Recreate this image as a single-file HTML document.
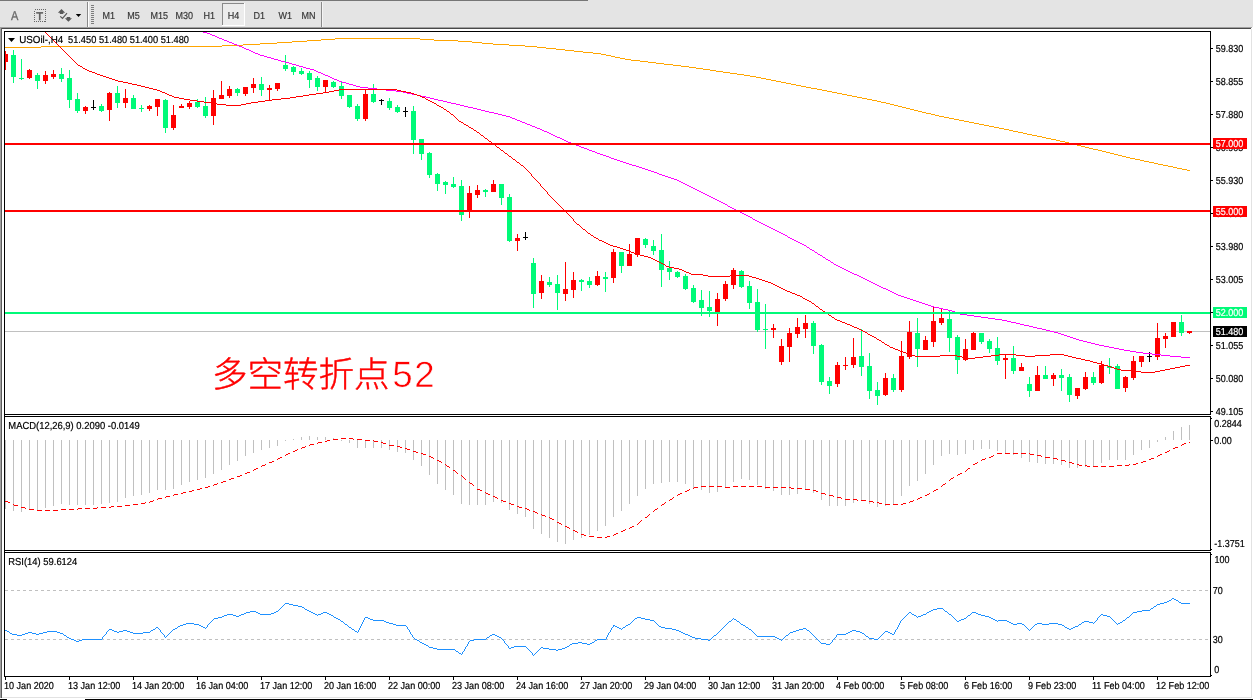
<!DOCTYPE html>
<html lang="zh"><head><meta charset="utf-8"><title>USOil H4</title>
<style>
html,body{margin:0;padding:0;background:#fff;}
body{width:1253px;height:700px;overflow:hidden;position:relative;font-family:"Liberation Sans","Noto Sans CJK SC",sans-serif;}
svg{position:absolute;left:0;top:0;display:block}
.s{shape-rendering:crispEdges}
text{text-rendering:geometricPrecision;stroke:#000;stroke-width:0.2px;font-family:"Liberation Sans","Noto Sans CJK SC",sans-serif;font-size:9px;fill:#000}
.tb{fill:#383838;stroke:#383838}
.big{stroke:none;font-size:35.5px;fill:#ff0000;font-weight:300;font-family:"Liberation Sans","Noto Sans CJK SC",sans-serif}
.w{fill:#fff;stroke:#fff}
</style></head><body>
<svg width="1253" height="700" viewBox="0 0 1253 700">
<g class="s"><rect class="s" x="0" y="0" width="1253" height="27" fill="#e4e4e4"/><rect class="s" x="0" y="0" width="588" height="1" fill="#767676"/><rect class="s" x="0" y="27" width="1252" height="1" fill="#a0a0a0"/><rect class="s" x="0" y="28" width="1251" height="1" fill="#484848"/><rect class="s" x="0" y="27" width="1" height="671" fill="#a0a0a0"/><rect class="s" x="1" y="28" width="1" height="670" fill="#5c5c5c"/><rect class="s" x="1251" y="29" width="1" height="669" fill="#e2e2e2"/><rect class="s" x="2" y="697" width="1250" height="1" fill="#e2e2e2"/><rect class="s" x="0" y="699" width="7" height="1" fill="#000"/><rect class="s" x="85" y="699" width="1168" height="1" fill="#000"/><rect class="s" x="87" y="2" width="1" height="25" fill="#8a8a8a"/><rect class="s" x="88" y="2" width="1" height="25" fill="#fff"/><rect class="s" x="321" y="2" width="1" height="25" fill="#8a8a8a"/><rect class="s" x="322" y="2" width="1" height="25" fill="#f4f4f4"/><rect class="s" x="91" y="5" width="3" height="1" fill="#7c7c7c"/><rect class="s" x="91" y="7" width="3" height="1" fill="#7c7c7c"/><rect class="s" x="91" y="9" width="3" height="1" fill="#7c7c7c"/><rect class="s" x="91" y="11" width="3" height="1" fill="#7c7c7c"/><rect class="s" x="91" y="13" width="3" height="1" fill="#7c7c7c"/><rect class="s" x="91" y="15" width="3" height="1" fill="#7c7c7c"/><rect class="s" x="91" y="17" width="3" height="1" fill="#7c7c7c"/><rect class="s" x="91" y="19" width="3" height="1" fill="#7c7c7c"/><rect class="s" x="91" y="21" width="3" height="1" fill="#7c7c7c"/><rect class="s" x="91" y="23" width="3" height="1" fill="#7c7c7c"/><rect class="s" x="222" y="3" width="22" height="22" fill="#ececec"/><rect class="s" x="222" y="3" width="22" height="1" fill="#8a8a8a"/><rect class="s" x="222" y="3" width="1" height="22" fill="#8a8a8a"/><rect class="s" x="222" y="25" width="23" height="1" fill="#fff"/><rect class="s" x="244" y="3" width="1" height="22" fill="#fff"/></g>
<text transform="translate(11 20) scale(0.86 1)" style="font-size:12.8px;fill:#6a6a6a;stroke:#6a6a6a;stroke-width:0.3px">A</text><rect x="34.5" y="9.5" width="11" height="12" fill="none" stroke="#666" stroke-width="1" stroke-dasharray="1 1" class="s"/><text x="36.3" y="19.8" style="font-size:11.2px;fill:#5a5a5a;stroke:#5a5a5a;stroke-width:0.5px">T</text><g fill="#585858"><polygon points="61.5,9 65.2,12.8 63.3,12.8 63.3,13.9 59.8,13.9 59.8,12.8 57.9,12.8"/><polygon points="68.4,21.8 72,18.2 70.2,18.2 70.2,17.1 66.7,17.1 66.7,18.2 64.9,18.2"/><polyline points="60.2,16.4 62.5,18.3 67,13.2" fill="none" stroke="#585858" stroke-width="1.2"/></g><polygon points="75.8,14 81.2,14 78.5,17" fill="#000"/>
<text transform="translate(102.6 19) scale(0.8927 1)" style="font-size:10.1px" class="tb">M1</text><text transform="translate(127.3 19) scale(0.8927 1)" style="font-size:10.1px" class="tb">M5</text><text transform="translate(150.5 19) scale(0.8927 1)" style="font-size:10.1px" class="tb">M15</text><text transform="translate(175.4 19) scale(0.8927 1)" style="font-size:10.1px" class="tb">M30</text><text transform="translate(203.6 19) scale(0.8927 1)" style="font-size:10.1px" class="tb">H1</text><text transform="translate(227.7 19) scale(0.8927 1)" style="font-size:10.1px" class="tb">H4</text><text transform="translate(253.5 19) scale(0.8927 1)" style="font-size:10.1px" class="tb">D1</text><text transform="translate(278.6 19) scale(0.8927 1)" style="font-size:10.1px" class="tb">W1</text><text transform="translate(301.6 19) scale(0.8927 1)" style="font-size:10.1px" class="tb">MN</text>
<g class="s"><rect class="s" x="4" y="31" width="1207" height="1" fill="#000"/><rect class="s" x="4" y="31" width="1" height="646" fill="#000"/><rect class="s" x="1210" y="31" width="1" height="646" fill="#000"/><rect class="s" x="4" y="676" width="1207" height="1" fill="#000"/><rect class="s" x="4" y="414" width="1207" height="1" fill="#000"/><rect class="s" x="4" y="416" width="1207" height="1" fill="#000"/><rect class="s" x="4" y="550" width="1207" height="1" fill="#000"/><rect class="s" x="4" y="552" width="1207" height="1" fill="#000"/><rect class="s" x="5" y="331" width="1205" height="1" fill="#c0c0c0"/></g>
<g class="s" fill="#c0c0c0"><rect x="5" y="440" width="1" height="69"/><rect x="13" y="440" width="1" height="71"/><rect x="21" y="440" width="1" height="72"/><rect x="29" y="440" width="1" height="70"/><rect x="37" y="440" width="1" height="70"/><rect x="45" y="440" width="1" height="68"/><rect x="53" y="440" width="1" height="66"/><rect x="61" y="440" width="1" height="64"/><rect x="69" y="440" width="1" height="65"/><rect x="77" y="440" width="1" height="65"/><rect x="85" y="440" width="1" height="65"/><rect x="93" y="440" width="1" height="65"/><rect x="101" y="440" width="1" height="64"/><rect x="109" y="440" width="1" height="63"/><rect x="117" y="440" width="1" height="62"/><rect x="125" y="440" width="1" height="58"/><rect x="133" y="440" width="1" height="56"/><rect x="141" y="440" width="1" height="55"/><rect x="149" y="440" width="1" height="53"/><rect x="157" y="440" width="1" height="50"/><rect x="165" y="440" width="1" height="50"/><rect x="173" y="440" width="1" height="49"/><rect x="181" y="440" width="1" height="45"/><rect x="189" y="440" width="1" height="42"/><rect x="197" y="440" width="1" height="40"/><rect x="205" y="440" width="1" height="38"/><rect x="213" y="440" width="1" height="34"/><rect x="221" y="440" width="1" height="30"/><rect x="229" y="440" width="1" height="25"/><rect x="237" y="440" width="1" height="21"/><rect x="245" y="440" width="1" height="16"/><rect x="253" y="440" width="1" height="13"/><rect x="261" y="440" width="1" height="10"/><rect x="269" y="440" width="1" height="8"/><rect x="277" y="440" width="1" height="6"/><rect x="285" y="440" width="1" height="1"/><rect x="293" y="439" width="1" height="1"/><rect x="301" y="437" width="1" height="3"/><rect x="309" y="436" width="1" height="4"/><rect x="317" y="437" width="1" height="3"/><rect x="325" y="437" width="1" height="3"/><rect x="333" y="438" width="1" height="2"/><rect x="341" y="440" width="1" height="1"/><rect x="349" y="440" width="1" height="3"/><rect x="357" y="440" width="1" height="8"/><rect x="365" y="440" width="1" height="8"/><rect x="373" y="440" width="1" height="8"/><rect x="381" y="440" width="1" height="8"/><rect x="389" y="440" width="1" height="10"/><rect x="397" y="440" width="1" height="12"/><rect x="405" y="440" width="1" height="13"/><rect x="413" y="440" width="1" height="20"/><rect x="421" y="440" width="1" height="26"/><rect x="429" y="440" width="1" height="35"/><rect x="437" y="440" width="1" height="44"/><rect x="445" y="440" width="1" height="50"/><rect x="453" y="440" width="1" height="55"/><rect x="461" y="440" width="1" height="64"/><rect x="469" y="440" width="1" height="65"/><rect x="477" y="440" width="1" height="65"/><rect x="485" y="440" width="1" height="65"/><rect x="493" y="440" width="1" height="62"/><rect x="501" y="440" width="1" height="63"/><rect x="509" y="440" width="1" height="70"/><rect x="517" y="440" width="1" height="74"/><rect x="525" y="440" width="1" height="77"/><rect x="533" y="440" width="1" height="89"/><rect x="541" y="440" width="1" height="94"/><rect x="549" y="440" width="1" height="98"/><rect x="557" y="440" width="1" height="102"/><rect x="565" y="440" width="1" height="104"/><rect x="573" y="440" width="1" height="100"/><rect x="581" y="440" width="1" height="98"/><rect x="589" y="440" width="1" height="95"/><rect x="597" y="440" width="1" height="91"/><rect x="605" y="440" width="1" height="86"/><rect x="613" y="440" width="1" height="77"/><rect x="621" y="440" width="1" height="71"/><rect x="629" y="440" width="1" height="64"/><rect x="637" y="440" width="1" height="56"/><rect x="645" y="440" width="1" height="49"/><rect x="653" y="440" width="1" height="44"/><rect x="661" y="440" width="1" height="43"/><rect x="669" y="440" width="1" height="42"/><rect x="677" y="440" width="1" height="42"/><rect x="685" y="440" width="1" height="44"/><rect x="693" y="440" width="1" height="48"/><rect x="701" y="440" width="1" height="50"/><rect x="709" y="440" width="1" height="53"/><rect x="717" y="440" width="1" height="52"/><rect x="725" y="440" width="1" height="47"/><rect x="733" y="440" width="1" height="42"/><rect x="741" y="440" width="1" height="39"/><rect x="749" y="440" width="1" height="40"/><rect x="757" y="440" width="1" height="45"/><rect x="765" y="440" width="1" height="49"/><rect x="773" y="440" width="1" height="51"/><rect x="781" y="440" width="1" height="55"/><rect x="789" y="440" width="1" height="55"/><rect x="797" y="440" width="1" height="54"/><rect x="805" y="440" width="1" height="49"/><rect x="813" y="440" width="1" height="53"/><rect x="821" y="440" width="1" height="60"/><rect x="829" y="440" width="1" height="66"/><rect x="837" y="440" width="1" height="66"/><rect x="845" y="440" width="1" height="66"/><rect x="853" y="440" width="1" height="63"/><rect x="861" y="440" width="1" height="60"/><rect x="869" y="440" width="1" height="64"/><rect x="877" y="440" width="1" height="67"/><rect x="885" y="440" width="1" height="66"/><rect x="893" y="440" width="1" height="65"/><rect x="901" y="440" width="1" height="56"/><rect x="909" y="440" width="1" height="46"/><rect x="917" y="440" width="1" height="41"/><rect x="925" y="440" width="1" height="34"/><rect x="933" y="440" width="1" height="25"/><rect x="941" y="440" width="1" height="16"/><rect x="949" y="440" width="1" height="14"/><rect x="957" y="440" width="1" height="15"/><rect x="965" y="440" width="1" height="14"/><rect x="973" y="440" width="1" height="10"/><rect x="981" y="440" width="1" height="9"/><rect x="989" y="440" width="1" height="9"/><rect x="997" y="440" width="1" height="11"/><rect x="1005" y="440" width="1" height="14"/><rect x="1013" y="440" width="1" height="15"/><rect x="1021" y="440" width="1" height="18"/><rect x="1029" y="440" width="1" height="22"/><rect x="1037" y="440" width="1" height="23"/><rect x="1045" y="440" width="1" height="24"/><rect x="1053" y="440" width="1" height="24"/><rect x="1061" y="440" width="1" height="25"/><rect x="1069" y="440" width="1" height="28"/><rect x="1077" y="440" width="1" height="28"/><rect x="1085" y="440" width="1" height="27"/><rect x="1093" y="440" width="1" height="26"/><rect x="1101" y="440" width="1" height="23"/><rect x="1109" y="440" width="1" height="20"/><rect x="1117" y="440" width="1" height="20"/><rect x="1125" y="440" width="1" height="20"/><rect x="1133" y="440" width="1" height="15"/><rect x="1141" y="440" width="1" height="10"/><rect x="1149" y="440" width="1" height="8"/><rect x="1157" y="440" width="1" height="2"/><rect x="1165" y="437" width="1" height="3"/><rect x="1173" y="431" width="1" height="9"/><rect x="1181" y="427" width="1" height="13"/><rect x="1189" y="425" width="1" height="15"/></g>
<path class="s" fill="#ff0000" d="M5,501h3v1h-3zM8,502h2v1h-2zM13,504h1v1h-1zM14,505h4v1h-4zM21,507h4v1h-4zM25,508h1v1h-1zM29,509h5v1h-5zM37,510h5v1h-5zM45,510h5v1h-5zM53,510h5v1h-5zM61,509h5v1h-5zM69,509h5v1h-5zM77,509h1v1h-1zM78,508h4v1h-4zM85,508h5v1h-5zM93,508h4v1h-4zM97,507h1v1h-1zM101,507h5v1h-5zM109,507h2v1h-2zM111,506h3v1h-3zM117,506h5v1h-5zM125,505h5v1h-5zM133,504h5v1h-5zM141,503h4v1h-4zM145,502h1v1h-1zM149,502h1v1h-1zM150,501h3v1h-3zM153,500h1v1h-1zM157,499h1v1h-1zM158,498h4v1h-4zM165,497h1v1h-1zM166,496h4v1h-4zM173,495h1v1h-1zM174,494h4v1h-4zM181,493h2v1h-2zM183,492h3v1h-3zM189,491h3v1h-3zM192,490h2v1h-2zM197,489h3v1h-3zM200,488h2v1h-2zM205,487h3v1h-3zM208,486h2v1h-2zM213,485h1v1h-1zM214,484h3v1h-3zM217,483h1v1h-1zM221,482h2v1h-2zM223,481h3v1h-3zM229,479h2v1h-2zM231,478h3v1h-3zM237,476h3v1h-3zM240,475h2v1h-2zM245,473h2v1h-2zM247,472h3v1h-3zM253,470h1v1h-1zM254,469h2v1h-2zM256,468h2v1h-2zM261,466h1v1h-1zM262,465h3v1h-3zM265,464h1v1h-1zM269,462h3v1h-3zM272,461h2v1h-2zM277,459h1v1h-1zM278,458h2v1h-2zM280,457h2v1h-2zM285,455h1v1h-1zM286,454h2v1h-2zM288,453h2v1h-2zM293,451h2v1h-2zM295,450h2v1h-2zM297,449h1v1h-1zM301,448h1v1h-1zM302,447h3v1h-3zM305,446h1v1h-1zM309,445h1v1h-1zM310,444h4v1h-4zM317,443h1v1h-1zM318,442h4v1h-4zM325,441h2v1h-2zM327,440h3v1h-3zM333,439h5v1h-5zM341,438h5v1h-5zM349,438h4v1h-4zM353,439h1v1h-1zM357,439h5v1h-5zM365,440h5v1h-5zM373,440h1v1h-1zM374,441h4v1h-4zM381,442h2v1h-2zM383,443h3v1h-3zM389,445h5v1h-5zM397,446h3v1h-3zM400,447h2v1h-2zM405,448h2v1h-2zM407,449h3v1h-3zM413,451h3v1h-3zM416,452h2v1h-2zM421,453h2v1h-2zM423,454h3v1h-3zM429,456h2v1h-2zM431,457h2v1h-2zM433,458h1v1h-1zM437,460h2v1h-2zM439,461h2v1h-2zM441,462h1v1h-1zM445,464h1v1h-1zM446,465h1v1h-1zM447,466h2v1h-2zM449,467h1v1h-1zM453,470h2v1h-2zM455,471h1v1h-1zM456,472h1v1h-1zM457,473h1v1h-1zM461,475h1v1h-1zM462,476h1v1h-1zM463,477h1v1h-1zM464,478h1v1h-1zM465,479h1v1h-1zM469,482h1v1h-1zM470,483h2v1h-2zM472,484h1v1h-1zM473,485h1v1h-1zM477,489h3v1h-3zM480,490h2v1h-2zM485,492h1v1h-1zM486,493h2v1h-2zM488,494h2v1h-2zM493,496h2v1h-2zM495,497h2v1h-2zM497,498h1v1h-1zM501,500h2v1h-2zM503,501h3v1h-3zM509,503h2v1h-2zM511,504h3v1h-3zM517,506h2v1h-2zM519,507h3v1h-3zM525,508h2v1h-2zM527,509h2v1h-2zM529,510h1v1h-1zM533,511h2v1h-2zM535,512h2v1h-2zM537,513h1v1h-1zM541,514h1v1h-1zM542,515h3v1h-3zM545,516h1v1h-1zM549,517h1v1h-1zM550,518h2v1h-2zM552,519h2v1h-2zM557,522h2v1h-2zM559,523h2v1h-2zM561,524h1v1h-1zM565,526h2v1h-2zM567,527h2v1h-2zM569,528h1v1h-1zM573,530h2v1h-2zM575,531h2v1h-2zM577,532h1v1h-1zM581,534h3v1h-3zM584,535h2v1h-2zM589,536h5v1h-5zM597,537h5v1h-5zM605,537h2v1h-2zM607,536h3v1h-3zM613,535h1v1h-1zM614,534h2v1h-2zM616,533h2v1h-2zM621,531h2v1h-2zM623,530h2v1h-2zM625,529h1v1h-1zM629,528h1v1h-1zM630,527h2v1h-2zM632,526h2v1h-2zM637,524h1v1h-1zM638,523h1v1h-1zM639,522h1v1h-1zM640,521h1v1h-1zM641,520h1v1h-1zM645,517h2v1h-2zM647,516h1v1h-1zM648,515h1v1h-1zM649,514h1v1h-1zM653,511h1v1h-1zM654,510h1v1h-1zM655,509h2v1h-2zM657,508h1v1h-1zM661,505h1v1h-1zM662,504h2v1h-2zM664,503h1v1h-1zM665,502h1v1h-1zM669,500h1v1h-1zM670,499h2v1h-2zM672,498h1v1h-1zM673,497h1v1h-1zM677,495h1v1h-1zM678,494h2v1h-2zM680,493h2v1h-2zM685,491h2v1h-2zM687,490h2v1h-2zM689,489h1v1h-1zM693,488h1v1h-1zM694,487h4v1h-4zM701,486h5v1h-5zM709,486h5v1h-5zM717,486h5v1h-5zM725,487h5v1h-5zM733,486h5v1h-5zM741,486h5v1h-5zM749,486h5v1h-5zM757,486h5v1h-5zM765,487h5v1h-5zM773,487h5v1h-5zM781,487h5v1h-5zM789,487h2v1h-2zM791,488h3v1h-3zM797,488h5v1h-5zM805,489h5v1h-5zM813,490h3v1h-3zM816,491h2v1h-2zM821,493h4v1h-4zM825,494h1v1h-1zM829,495h4v1h-4zM833,496h1v1h-1zM837,497h4v1h-4zM841,498h1v1h-1zM845,499h5v1h-5zM853,499h4v1h-4zM857,500h1v1h-1zM861,500h5v1h-5zM869,501h4v1h-4zM873,502h1v1h-1zM877,502h2v1h-2zM879,503h3v1h-3zM885,504h5v1h-5zM893,504h5v1h-5zM901,504h2v1h-2zM903,503h3v1h-3zM909,502h1v1h-1zM910,501h3v1h-3zM913,500h1v1h-1zM917,499h1v1h-1zM918,498h2v1h-2zM920,497h2v1h-2zM925,495h2v1h-2zM927,494h2v1h-2zM929,493h1v1h-1zM933,491h1v1h-1zM934,490h2v1h-2zM936,489h2v1h-2zM941,486h1v1h-1zM942,485h1v1h-1zM943,484h2v1h-2zM945,483h1v1h-1zM949,480h1v1h-1zM950,479h1v1h-1zM951,478h2v1h-2zM953,477h1v1h-1zM957,475h1v1h-1zM958,474h2v1h-2zM960,473h2v1h-2zM965,471h1v1h-1zM966,470h1v1h-1zM967,469h1v1h-1zM968,468h2v1h-2zM973,464h2v1h-2zM975,463h2v1h-2zM977,462h1v1h-1zM981,460h1v1h-1zM982,459h3v1h-3zM985,458h1v1h-1zM989,457h2v1h-2zM991,456h2v1h-2zM993,455h1v1h-1zM997,453h5v1h-5zM1005,453h5v1h-5zM1013,453h5v1h-5zM1021,453h5v1h-5zM1029,453h1v1h-1zM1030,454h4v1h-4zM1037,455h4v1h-4zM1041,456h1v1h-1zM1045,457h5v1h-5zM1053,458h4v1h-4zM1057,459h1v1h-1zM1061,460h4v1h-4zM1065,461h1v1h-1zM1069,462h3v1h-3zM1072,463h2v1h-2zM1077,464h2v1h-2zM1079,465h3v1h-3zM1085,465h2v1h-2zM1087,466h3v1h-3zM1093,466h5v1h-5zM1101,466h5v1h-5zM1109,466h5v1h-5zM1117,465h5v1h-5zM1125,465h4v1h-4zM1129,464h1v1h-1zM1133,464h3v1h-3zM1136,463h2v1h-2zM1141,462h2v1h-2zM1143,461h3v1h-3zM1149,459h2v1h-2zM1151,458h3v1h-3zM1157,456h1v1h-1zM1158,455h2v1h-2zM1160,454h2v1h-2zM1165,452h2v1h-2zM1167,451h2v1h-2zM1169,450h1v1h-1zM1173,448h2v1h-2zM1175,447h3v1h-3zM1181,445h1v1h-1zM1182,444h2v1h-2zM1184,443h2v1h-2zM1189,442h1v1h-1z"/>
<g class="s" stroke="#c0c0c0" stroke-width="1" stroke-dasharray="3 3"><line x1="5" y1="590.5" x2="1210" y2="590.5"/><line x1="5" y1="639.5" x2="1210" y2="639.5"/></g><path class="s" fill="#1e90ff" d="M5,630h2v1h-2zM7,631h2v1h-2zM9,632h1v1h-1zM10,633h2v1h-2zM12,634h5v1h-5zM17,635h5v1h-5zM22,634h3v1h-3zM25,633h3v1h-3zM28,632h4v1h-4zM32,633h4v1h-4zM36,634h3v1h-3zM39,633h4v1h-4zM43,632h4v1h-4zM47,631h10v1h-10zM57,632h3v1h-3zM60,633h3v1h-3zM63,634h1v1h-1zM64,635h2v1h-2zM66,636h1v1h-1zM67,637h2v1h-2zM69,638h2v1h-2zM71,639h3v1h-3zM74,640h2v1h-2zM76,641h3v1h-3zM79,640h3v1h-3zM82,639h20v1h-20zM102,637h1v2h-1zM103,636h1v1h-1zM104,635h1v1h-1zM105,634h1v1h-1zM106,632h1v2h-1zM107,631h1v1h-1zM108,630h1v1h-1zM109,629h3v1h-3zM112,630h2v1h-2zM114,631h3v1h-3zM117,632h2v1h-2zM119,631h4v1h-4zM123,630h4v1h-4zM127,631h3v1h-3zM130,632h3v1h-3zM133,633h10v1h-10zM143,632h7v1h-7zM150,631h1v1h-1zM151,630h2v1h-2zM153,629h2v1h-2zM155,628h1v1h-1zM156,627h2v1h-2zM158,628h1v1h-1zM159,629h1v1h-1zM160,630h1v2h-1zM161,632h1v1h-1zM162,633h1v1h-1zM163,634h1v1h-1zM164,635h1v2h-1zM165,637h1v1h-1zM166,636h1v1h-1zM167,635h1v1h-1zM168,634h1v1h-1zM169,633h1v1h-1zM170,632h1v1h-1zM171,631h1v1h-1zM172,630h1v1h-1zM173,629h2v1h-2zM175,628h2v1h-2zM177,627h1v1h-1zM178,626h2v1h-2zM180,625h3v1h-3zM183,624h3v1h-3zM186,623h8v1h-8zM194,624h5v1h-5zM199,625h2v1h-2zM201,626h2v1h-2zM203,627h2v1h-2zM205,628h1v1h-1zM206,627h1v1h-1zM207,625h1v2h-1zM208,624h1v1h-1zM209,623h1v1h-1zM210,622h1v1h-1zM211,621h1v1h-1zM212,620h1v1h-1zM213,619h1v1h-1zM214,618h4v1h-4zM218,617h4v1h-4zM222,616h2v1h-2zM224,615h3v1h-3zM227,614h6v1h-6zM233,615h3v1h-3zM236,616h3v1h-3zM239,615h2v1h-2zM241,614h3v1h-3zM244,613h2v1h-2zM246,612h4v1h-4zM250,611h6v1h-6zM256,612h2v1h-2zM258,613h2v1h-2zM260,614h11v1h-11zM271,613h3v1h-3zM274,612h2v1h-2zM276,611h2v1h-2zM278,610h1v1h-1zM279,609h1v1h-1zM280,608h1v1h-1zM281,607h1v1h-1zM282,606h1v1h-1zM283,605h1v1h-1zM284,604h1v1h-1zM285,603h4v1h-4zM289,604h4v1h-4zM293,605h5v1h-5zM298,606h4v1h-4zM302,607h2v1h-2zM304,608h1v1h-1zM305,609h2v1h-2zM307,610h2v1h-2zM309,611h2v1h-2zM311,612h2v1h-2zM313,613h2v1h-2zM315,614h2v1h-2zM317,615h1v1h-1zM318,614h3v1h-3zM321,613h2v1h-2zM323,612h4v1h-4zM327,613h2v1h-2zM329,614h2v1h-2zM331,615h2v1h-2zM333,616h1v1h-1zM334,617h2v1h-2zM336,618h2v1h-2zM338,619h2v1h-2zM340,620h1v1h-1zM341,621h2v1h-2zM343,622h1v1h-1zM344,623h1v1h-1zM345,624h2v1h-2zM347,625h1v1h-1zM348,626h1v1h-1zM349,627h2v1h-2zM351,628h1v1h-1zM352,629h2v1h-2zM354,630h1v1h-1zM355,631h2v1h-2zM357,632h1v1h-1zM358,630h1v2h-1zM359,628h1v2h-1zM360,626h1v2h-1zM361,624h1v2h-1zM362,622h1v2h-1zM363,620h1v2h-1zM364,618h1v2h-1zM365,617h3v1h-3zM368,618h2v1h-2zM370,619h3v1h-3zM373,620h11v1h-11zM384,621h2v1h-2zM386,622h3v1h-3zM389,623h4v1h-4zM393,624h3v1h-3zM396,625h10v1h-10zM406,626h1v1h-1zM407,627h1v2h-1zM408,629h1v1h-1zM409,630h1v2h-1zM410,632h1v2h-1zM411,634h1v1h-1zM412,635h1v2h-1zM413,637h1v1h-1zM414,638h1v1h-1zM415,639h2v1h-2zM417,640h2v1h-2zM419,641h1v1h-1zM420,642h2v1h-2zM422,643h2v1h-2zM424,644h2v1h-2zM426,645h2v1h-2zM428,646h1v1h-1zM429,647h4v1h-4zM433,648h4v1h-4zM437,649h18v1h-18zM455,650h1v1h-1zM456,651h2v1h-2zM458,652h1v1h-1zM459,653h2v1h-2zM461,654h1v1h-1zM462,652h1v2h-1zM463,651h1v1h-1zM464,649h1v2h-1zM465,647h1v2h-1zM466,646h1v1h-1zM467,644h1v2h-1zM468,642h1v2h-1zM469,641h1v1h-1zM470,640h4v1h-4zM474,639h12v1h-12zM486,638h1v1h-1zM487,637h2v1h-2zM489,636h1v1h-1zM490,635h2v1h-2zM492,634h3v1h-3zM495,635h2v1h-2zM497,636h2v1h-2zM499,637h2v1h-2zM501,638h1v1h-1zM502,639h1v1h-1zM503,640h1v1h-1zM504,641h1v2h-1zM505,643h1v1h-1zM506,644h1v1h-1zM507,645h1v1h-1zM508,646h1v2h-1zM509,648h2v1h-2zM511,647h3v1h-3zM514,646h12v1h-12zM526,647h1v1h-1zM527,648h1v1h-1zM528,649h1v1h-1zM529,650h1v1h-1zM530,651h1v1h-1zM531,652h1v1h-1zM532,653h1v2h-1zM533,655h1v1h-1zM534,654h1v1h-1zM535,653h1v1h-1zM536,652h1v1h-1zM537,651h1v1h-1zM538,650h1v1h-1zM539,649h1v1h-1zM540,648h1v1h-1zM541,647h2v1h-2zM543,648h6v1h-6zM549,649h7v1h-7zM556,650h2v1h-2zM558,649h4v1h-4zM562,648h3v1h-3zM565,647h2v1h-2zM567,646h2v1h-2zM569,645h1v1h-1zM570,644h2v1h-2zM572,643h6v1h-6zM578,642h4v1h-4zM582,643h5v1h-5zM587,644h3v1h-3zM590,643h2v1h-2zM592,642h2v1h-2zM594,641h1v1h-1zM595,640h2v1h-2zM597,639h9v1h-9zM606,637h1v2h-1zM607,635h1v2h-1zM608,633h1v2h-1zM609,632h1v1h-1zM610,630h1v2h-1zM611,628h1v2h-1zM612,627h1v1h-1zM613,625h1v2h-1zM614,625h1v1h-1zM615,626h2v1h-2zM617,627h2v1h-2zM619,628h2v1h-2zM621,629h1v1h-1zM622,628h1v1h-1zM623,627h2v1h-2zM625,626h1v1h-1zM626,625h2v1h-2zM628,624h2v1h-2zM630,623h1v1h-1zM631,622h1v1h-1zM632,621h1v1h-1zM633,620h1v1h-1zM634,619h1v1h-1zM635,618h2v1h-2zM637,617h4v1h-4zM641,618h4v1h-4zM645,619h5v1h-5zM650,620h4v1h-4zM654,621h1v1h-1zM655,622h1v1h-1zM656,623h1v1h-1zM657,624h1v1h-1zM658,625h1v1h-1zM659,626h2v1h-2zM661,627h4v1h-4zM665,628h7v1h-7zM672,629h4v1h-4zM676,630h3v1h-3zM679,631h2v1h-2zM681,632h2v1h-2zM683,633h2v1h-2zM685,634h3v1h-3zM688,635h2v1h-2zM690,636h2v1h-2zM692,637h3v1h-3zM695,638h6v1h-6zM701,639h7v1h-7zM708,640h2v1h-2zM710,639h1v1h-1zM711,638h1v1h-1zM712,637h1v1h-1zM713,636h1v1h-1zM714,635h2v1h-2zM716,634h1v1h-1zM717,633h1v1h-1zM718,632h1v1h-1zM719,631h1v1h-1zM720,630h1v1h-1zM721,629h1v1h-1zM722,628h1v1h-1zM723,627h1v1h-1zM724,626h1v1h-1zM725,625h1v1h-1zM726,624h1v1h-1zM727,623h1v1h-1zM728,622h1v1h-1zM729,621h2v1h-2zM731,620h1v1h-1zM732,619h1v1h-1zM733,618h1v1h-1zM734,619h2v1h-2zM736,620h1v1h-1zM737,621h2v1h-2zM739,622h1v1h-1zM740,623h1v1h-1zM741,624h2v1h-2zM743,625h2v1h-2zM745,626h1v1h-1zM746,627h2v1h-2zM748,628h1v1h-1zM749,629h2v1h-2zM751,630h1v1h-1zM752,631h1v1h-1zM753,632h1v1h-1zM754,633h1v1h-1zM755,634h1v1h-1zM756,635h1v1h-1zM757,636h18v1h-18zM775,637h2v1h-2zM777,638h2v1h-2zM779,639h2v1h-2zM781,640h1v1h-1zM782,639h1v1h-1zM783,638h1v1h-1zM784,637h1v1h-1zM785,636h1v1h-1zM786,635h2v1h-2zM788,634h1v1h-1zM789,633h1v1h-1zM790,632h3v1h-3zM793,631h3v1h-3zM796,630h3v1h-3zM799,629h4v1h-4zM803,628h3v1h-3zM806,629h1v1h-1zM807,630h2v1h-2zM809,631h1v1h-1zM810,632h1v1h-1zM811,633h1v1h-1zM812,634h1v1h-1zM813,635h1v1h-1zM814,636h1v1h-1zM815,637h1v1h-1zM816,638h1v1h-1zM817,639h1v1h-1zM818,640h1v1h-1zM819,641h1v1h-1zM820,642h1v1h-1zM821,643h5v1h-5zM826,644h4v1h-4zM830,643h1v1h-1zM831,642h1v1h-1zM832,640h1v2h-1zM833,639h1v1h-1zM834,638h1v1h-1zM835,637h1v1h-1zM836,635h1v2h-1zM837,634h9v1h-9zM846,633h2v1h-2zM848,632h2v1h-2zM850,631h2v1h-2zM852,630h4v1h-4zM856,631h4v1h-4zM860,632h2v1h-2zM862,633h2v1h-2zM864,634h1v1h-1zM865,635h1v1h-1zM866,636h2v1h-2zM868,637h1v1h-1zM869,638h5v1h-5zM874,639h4v1h-4zM878,638h1v1h-1zM879,637h1v1h-1zM880,636h1v1h-1zM881,635h1v1h-1zM882,634h1v1h-1zM883,633h1v1h-1zM884,632h1v1h-1zM885,631h3v1h-3zM888,632h2v1h-2zM890,633h2v1h-2zM892,634h2v1h-2zM894,632h1v2h-1zM895,630h1v2h-1zM896,629h1v1h-1zM897,627h1v2h-1zM898,625h1v2h-1zM899,623h1v2h-1zM900,621h1v2h-1zM901,620h1v1h-1zM902,619h1v1h-1zM903,618h1v1h-1zM904,617h1v1h-1zM905,616h1v1h-1zM906,615h1v1h-1zM907,614h1v1h-1zM908,613h1v1h-1zM909,612h2v1h-2zM911,613h1v1h-1zM912,614h2v1h-2zM914,615h2v1h-2zM916,616h1v1h-1zM917,617h1v1h-1zM918,616h3v1h-3zM921,615h2v1h-2zM923,614h3v1h-3zM926,613h1v1h-1zM927,612h2v1h-2zM929,611h2v1h-2zM931,610h2v1h-2zM933,609h4v1h-4zM937,608h6v1h-6zM943,609h1v1h-1zM944,610h1v1h-1zM945,611h2v1h-2zM947,612h1v1h-1zM948,613h1v1h-1zM949,614h2v1h-2zM951,615h1v1h-1zM952,616h1v1h-1zM953,617h1v1h-1zM954,618h1v1h-1zM955,619h1v1h-1zM956,620h1v1h-1zM957,621h2v1h-2zM959,620h2v1h-2zM961,619h3v1h-3zM964,618h2v1h-2zM966,617h1v1h-1zM967,616h1v1h-1zM968,615h2v1h-2zM970,614h1v1h-1zM971,613h1v1h-1zM972,612h4v1h-4zM976,613h2v1h-2zM978,614h3v1h-3zM981,615h4v1h-4zM985,616h4v1h-4zM989,617h2v1h-2zM991,618h2v1h-2zM993,619h2v1h-2zM995,620h2v1h-2zM997,621h1v1h-1zM998,620h9v1h-9zM1007,621h2v1h-2zM1009,622h2v1h-2zM1011,623h2v1h-2zM1013,624h4v1h-4zM1017,623h5v1h-5zM1022,624h2v1h-2zM1024,625h1v1h-1zM1025,626h1v1h-1zM1026,627h1v1h-1zM1027,628h1v1h-1zM1028,629h1v1h-1zM1029,630h1v1h-1zM1030,629h1v1h-1zM1031,628h1v1h-1zM1032,627h1v1h-1zM1033,626h1v1h-1zM1034,625h1v1h-1zM1035,624h2v1h-2zM1037,623h5v1h-5zM1042,624h7v1h-7zM1049,623h9v1h-9zM1058,624h4v1h-4zM1062,625h2v1h-2zM1064,626h1v1h-1zM1065,627h2v1h-2zM1067,628h2v1h-2zM1069,629h2v1h-2zM1071,628h2v1h-2zM1073,627h2v1h-2zM1075,626h3v1h-3zM1078,625h1v1h-1zM1079,624h2v1h-2zM1081,623h1v1h-1zM1082,622h2v1h-2zM1084,621h5v1h-5zM1089,622h4v1h-4zM1093,623h1v1h-1zM1094,622h1v1h-1zM1095,621h1v1h-1zM1096,620h1v1h-1zM1097,618h1v2h-1zM1098,617h1v1h-1zM1099,616h1v1h-1zM1100,615h1v1h-1zM1101,614h2v1h-2zM1103,615h4v1h-4zM1107,616h3v1h-3zM1110,617h1v1h-1zM1111,618h1v1h-1zM1112,619h1v1h-1zM1113,620h1v1h-1zM1114,621h1v1h-1zM1115,622h1v1h-1zM1116,623h1v1h-1zM1117,624h1v1h-1zM1118,623h2v1h-2zM1120,622h2v1h-2zM1122,621h1v1h-1zM1123,620h2v1h-2zM1125,619h1v1h-1zM1126,618h1v1h-1zM1127,617h2v1h-2zM1129,616h1v1h-1zM1130,615h1v1h-1zM1131,614h1v1h-1zM1132,613h1v1h-1zM1133,612h4v1h-4zM1137,611h5v1h-5zM1142,610h8v1h-8zM1150,609h1v1h-1zM1151,608h2v1h-2zM1153,607h1v1h-1zM1154,606h2v1h-2zM1156,605h1v1h-1zM1157,604h3v1h-3zM1160,603h4v1h-4zM1164,602h3v1h-3zM1167,601h2v1h-2zM1169,600h2v1h-2zM1171,599h1v1h-1zM1172,598h2v1h-2zM1174,599h2v1h-2zM1176,600h2v1h-2zM1178,601h1v1h-1zM1179,602h2v1h-2zM1181,603h9v1h-9z"/>
<g class="s"><rect x="5" y="51" width="1" height="19" fill="#ff0000"/><rect x="5" y="54" width="3" height="8" fill="#ff0000"/><rect x="13" y="50" width="1" height="33" fill="#00fa78"/><rect x="11" y="55" width="5" height="22" fill="#00fa78"/><rect x="21" y="59" width="1" height="21" fill="#00fa78"/><rect x="19" y="78" width="5" height="1" fill="#00fa78"/><rect x="29" y="69" width="1" height="10" fill="#ff0000"/><rect x="27" y="70" width="5" height="8" fill="#ff0000"/><rect x="37" y="73" width="1" height="16" fill="#00fa78"/><rect x="35" y="75" width="5" height="6" fill="#00fa78"/><rect x="45" y="71" width="1" height="13" fill="#ff0000"/><rect x="43" y="75" width="5" height="6" fill="#ff0000"/><rect x="53" y="70" width="1" height="9" fill="#ff0000"/><rect x="51" y="74" width="5" height="3" fill="#ff0000"/><rect x="61" y="68" width="1" height="14" fill="#00fa78"/><rect x="59" y="74" width="5" height="5" fill="#00fa78"/><rect x="69" y="70" width="1" height="38" fill="#00fa78"/><rect x="67" y="78" width="5" height="22" fill="#00fa78"/><rect x="77" y="93" width="1" height="20" fill="#00fa78"/><rect x="75" y="99" width="5" height="12" fill="#00fa78"/><rect x="85" y="106" width="1" height="8" fill="#ff0000"/><rect x="83" y="107" width="5" height="4" fill="#ff0000"/><rect x="93" y="100" width="1" height="10" fill="#000"/><rect x="91" y="107" width="5" height="1" fill="#000"/><rect x="101" y="104" width="1" height="8" fill="#00fa78"/><rect x="99" y="106" width="5" height="5" fill="#00fa78"/><rect x="109" y="92" width="1" height="29" fill="#ff0000"/><rect x="107" y="93" width="5" height="17" fill="#ff0000"/><rect x="117" y="86" width="1" height="22" fill="#00fa78"/><rect x="115" y="93" width="5" height="10" fill="#00fa78"/><rect x="125" y="89" width="1" height="19" fill="#ff0000"/><rect x="123" y="98" width="5" height="5" fill="#ff0000"/><rect x="133" y="95" width="1" height="14" fill="#00fa78"/><rect x="131" y="98" width="5" height="11" fill="#00fa78"/><rect x="141" y="105" width="1" height="7" fill="#00fa78"/><rect x="139" y="108" width="5" height="1" fill="#00fa78"/><rect x="149" y="105" width="1" height="6" fill="#ff0000"/><rect x="147" y="106" width="5" height="3" fill="#ff0000"/><rect x="157" y="99" width="1" height="17" fill="#ff0000"/><rect x="155" y="99" width="5" height="8" fill="#ff0000"/><rect x="165" y="99" width="1" height="34" fill="#00fa78"/><rect x="163" y="100" width="5" height="28" fill="#00fa78"/><rect x="173" y="105" width="1" height="25" fill="#ff0000"/><rect x="171" y="115" width="5" height="13" fill="#ff0000"/><rect x="181" y="104" width="1" height="4" fill="#ff0000"/><rect x="179" y="106" width="5" height="2" fill="#ff0000"/><rect x="189" y="101" width="1" height="8" fill="#ff0000"/><rect x="187" y="103" width="5" height="4" fill="#ff0000"/><rect x="197" y="99" width="1" height="9" fill="#00fa78"/><rect x="195" y="102" width="5" height="5" fill="#00fa78"/><rect x="205" y="97" width="1" height="21" fill="#00fa78"/><rect x="203" y="106" width="5" height="10" fill="#00fa78"/><rect x="213" y="90" width="1" height="35" fill="#ff0000"/><rect x="211" y="98" width="5" height="18" fill="#ff0000"/><rect x="221" y="81" width="1" height="18" fill="#ff0000"/><rect x="219" y="95" width="5" height="4" fill="#ff0000"/><rect x="229" y="86" width="1" height="12" fill="#ff0000"/><rect x="227" y="89" width="5" height="7" fill="#ff0000"/><rect x="237" y="88" width="1" height="8" fill="#00fa78"/><rect x="235" y="89" width="5" height="4" fill="#00fa78"/><rect x="245" y="87" width="1" height="9" fill="#ff0000"/><rect x="243" y="87" width="5" height="7" fill="#ff0000"/><rect x="253" y="78" width="1" height="15" fill="#ff0000"/><rect x="251" y="84" width="5" height="4" fill="#ff0000"/><rect x="261" y="77" width="1" height="19" fill="#00fa78"/><rect x="259" y="84" width="5" height="6" fill="#00fa78"/><rect x="269" y="85" width="1" height="15" fill="#ff0000"/><rect x="267" y="88" width="5" height="2" fill="#ff0000"/><rect x="277" y="83" width="1" height="8" fill="#ff0000"/><rect x="275" y="83" width="5" height="6" fill="#ff0000"/><rect x="285" y="55" width="1" height="16" fill="#00fa78"/><rect x="283" y="65" width="5" height="4" fill="#00fa78"/><rect x="293" y="66" width="1" height="9" fill="#00fa78"/><rect x="291" y="67" width="5" height="5" fill="#00fa78"/><rect x="301" y="68" width="1" height="7" fill="#00fa78"/><rect x="299" y="71" width="5" height="3" fill="#00fa78"/><rect x="309" y="71" width="1" height="17" fill="#00fa78"/><rect x="307" y="73" width="5" height="7" fill="#00fa78"/><rect x="317" y="76" width="1" height="15" fill="#00fa78"/><rect x="315" y="78" width="5" height="9" fill="#00fa78"/><rect x="325" y="80" width="1" height="12" fill="#ff0000"/><rect x="323" y="80" width="5" height="7" fill="#ff0000"/><rect x="333" y="81" width="1" height="7" fill="#00fa78"/><rect x="331" y="82" width="5" height="5" fill="#00fa78"/><rect x="341" y="82" width="1" height="17" fill="#00fa78"/><rect x="339" y="86" width="5" height="10" fill="#00fa78"/><rect x="349" y="95" width="1" height="13" fill="#00fa78"/><rect x="347" y="95" width="5" height="12" fill="#00fa78"/><rect x="357" y="104" width="1" height="17" fill="#00fa78"/><rect x="355" y="106" width="5" height="13" fill="#00fa78"/><rect x="365" y="90" width="1" height="31" fill="#ff0000"/><rect x="363" y="94" width="5" height="25" fill="#ff0000"/><rect x="373" y="84" width="1" height="19" fill="#00fa78"/><rect x="371" y="94" width="5" height="8" fill="#00fa78"/><rect x="381" y="99" width="1" height="6" fill="#000"/><rect x="379" y="100" width="5" height="1" fill="#000"/><rect x="389" y="98" width="1" height="12" fill="#00fa78"/><rect x="387" y="101" width="5" height="7" fill="#00fa78"/><rect x="397" y="105" width="1" height="8" fill="#00fa78"/><rect x="395" y="107" width="5" height="5" fill="#00fa78"/><rect x="405" y="107" width="1" height="10" fill="#000"/><rect x="403" y="111" width="5" height="1" fill="#000"/><rect x="413" y="106" width="1" height="48" fill="#00fa78"/><rect x="411" y="111" width="5" height="29" fill="#00fa78"/><rect x="421" y="139" width="1" height="21" fill="#00fa78"/><rect x="419" y="139" width="5" height="15" fill="#00fa78"/><rect x="429" y="152" width="1" height="26" fill="#00fa78"/><rect x="427" y="153" width="5" height="22" fill="#00fa78"/><rect x="437" y="173" width="1" height="18" fill="#00fa78"/><rect x="435" y="174" width="5" height="10" fill="#00fa78"/><rect x="445" y="181" width="1" height="13" fill="#00fa78"/><rect x="443" y="182" width="5" height="3" fill="#00fa78"/><rect x="453" y="177" width="1" height="11" fill="#00fa78"/><rect x="451" y="184" width="5" height="3" fill="#00fa78"/><rect x="461" y="180" width="1" height="41" fill="#00fa78"/><rect x="459" y="186" width="5" height="29" fill="#00fa78"/><rect x="469" y="186" width="1" height="32" fill="#ff0000"/><rect x="467" y="193" width="5" height="17" fill="#ff0000"/><rect x="477" y="185" width="1" height="13" fill="#ff0000"/><rect x="475" y="190" width="5" height="5" fill="#ff0000"/><rect x="485" y="189" width="1" height="8" fill="#00fa78"/><rect x="483" y="190" width="5" height="2" fill="#00fa78"/><rect x="493" y="180" width="1" height="12" fill="#ff0000"/><rect x="491" y="184" width="5" height="8" fill="#ff0000"/><rect x="501" y="184" width="1" height="21" fill="#00fa78"/><rect x="499" y="184" width="5" height="14" fill="#00fa78"/><rect x="509" y="194" width="1" height="48" fill="#00fa78"/><rect x="507" y="197" width="5" height="44" fill="#00fa78"/><rect x="517" y="234" width="1" height="17" fill="#ff0000"/><rect x="515" y="238" width="5" height="3" fill="#ff0000"/><rect x="525" y="232" width="1" height="8" fill="#000"/><rect x="523" y="237" width="5" height="1" fill="#000"/><rect x="533" y="258" width="1" height="50" fill="#00fa78"/><rect x="531" y="263" width="5" height="31" fill="#00fa78"/><rect x="541" y="275" width="1" height="24" fill="#ff0000"/><rect x="539" y="281" width="5" height="12" fill="#ff0000"/><rect x="549" y="277" width="1" height="10" fill="#00fa78"/><rect x="547" y="282" width="5" height="3" fill="#00fa78"/><rect x="557" y="275" width="1" height="35" fill="#00fa78"/><rect x="555" y="284" width="5" height="9" fill="#00fa78"/><rect x="565" y="262" width="1" height="39" fill="#ff0000"/><rect x="563" y="289" width="5" height="5" fill="#ff0000"/><rect x="573" y="272" width="1" height="26" fill="#ff0000"/><rect x="571" y="280" width="5" height="10" fill="#ff0000"/><rect x="581" y="279" width="1" height="12" fill="#00fa78"/><rect x="579" y="280" width="5" height="2" fill="#00fa78"/><rect x="589" y="277" width="1" height="11" fill="#00fa78"/><rect x="587" y="281" width="5" height="4" fill="#00fa78"/><rect x="597" y="271" width="1" height="15" fill="#ff0000"/><rect x="595" y="276" width="5" height="9" fill="#ff0000"/><rect x="605" y="272" width="1" height="20" fill="#00fa78"/><rect x="603" y="277" width="5" height="2" fill="#00fa78"/><rect x="613" y="249" width="1" height="34" fill="#ff0000"/><rect x="611" y="252" width="5" height="26" fill="#ff0000"/><rect x="621" y="252" width="1" height="21" fill="#00fa78"/><rect x="619" y="252" width="5" height="14" fill="#00fa78"/><rect x="629" y="244" width="1" height="22" fill="#ff0000"/><rect x="627" y="254" width="5" height="12" fill="#ff0000"/><rect x="637" y="238" width="1" height="19" fill="#ff0000"/><rect x="635" y="238" width="5" height="17" fill="#ff0000"/><rect x="645" y="238" width="1" height="10" fill="#00fa78"/><rect x="643" y="239" width="5" height="6" fill="#00fa78"/><rect x="653" y="240" width="1" height="15" fill="#00fa78"/><rect x="651" y="246" width="5" height="5" fill="#00fa78"/><rect x="661" y="234" width="1" height="53" fill="#00fa78"/><rect x="659" y="250" width="5" height="20" fill="#00fa78"/><rect x="669" y="261" width="1" height="19" fill="#00fa78"/><rect x="667" y="268" width="5" height="4" fill="#00fa78"/><rect x="677" y="271" width="1" height="7" fill="#00fa78"/><rect x="675" y="272" width="5" height="5" fill="#00fa78"/><rect x="685" y="274" width="1" height="16" fill="#00fa78"/><rect x="683" y="276" width="5" height="13" fill="#00fa78"/><rect x="693" y="285" width="1" height="18" fill="#00fa78"/><rect x="691" y="288" width="5" height="14" fill="#00fa78"/><rect x="701" y="290" width="1" height="26" fill="#00fa78"/><rect x="699" y="300" width="5" height="8" fill="#00fa78"/><rect x="709" y="291" width="1" height="26" fill="#00fa78"/><rect x="707" y="307" width="5" height="4" fill="#00fa78"/><rect x="717" y="293" width="1" height="33" fill="#ff0000"/><rect x="715" y="299" width="5" height="13" fill="#ff0000"/><rect x="725" y="281" width="1" height="20" fill="#ff0000"/><rect x="723" y="284" width="5" height="15" fill="#ff0000"/><rect x="733" y="268" width="1" height="21" fill="#ff0000"/><rect x="731" y="270" width="5" height="15" fill="#ff0000"/><rect x="741" y="270" width="1" height="18" fill="#00fa78"/><rect x="739" y="271" width="5" height="16" fill="#00fa78"/><rect x="749" y="281" width="1" height="28" fill="#00fa78"/><rect x="747" y="286" width="5" height="17" fill="#00fa78"/><rect x="757" y="289" width="1" height="43" fill="#00fa78"/><rect x="755" y="302" width="5" height="28" fill="#00fa78"/><rect x="765" y="304" width="1" height="45" fill="#00fa78"/><rect x="763" y="329" width="5" height="1" fill="#00fa78"/><rect x="773" y="324" width="1" height="14" fill="#ff0000"/><rect x="771" y="328" width="5" height="2" fill="#ff0000"/><rect x="781" y="339" width="1" height="26" fill="#ff0000"/><rect x="779" y="346" width="5" height="16" fill="#ff0000"/><rect x="789" y="328" width="1" height="34" fill="#ff0000"/><rect x="787" y="333" width="5" height="14" fill="#ff0000"/><rect x="797" y="318" width="1" height="20" fill="#ff0000"/><rect x="795" y="327" width="5" height="7" fill="#ff0000"/><rect x="805" y="315" width="1" height="23" fill="#ff0000"/><rect x="803" y="323" width="5" height="6" fill="#ff0000"/><rect x="813" y="321" width="1" height="33" fill="#00fa78"/><rect x="811" y="323" width="5" height="23" fill="#00fa78"/><rect x="821" y="344" width="1" height="41" fill="#00fa78"/><rect x="819" y="345" width="5" height="37" fill="#00fa78"/><rect x="829" y="377" width="1" height="17" fill="#00fa78"/><rect x="827" y="381" width="5" height="5" fill="#00fa78"/><rect x="837" y="362" width="1" height="25" fill="#ff0000"/><rect x="835" y="365" width="5" height="19" fill="#ff0000"/><rect x="845" y="357" width="1" height="13" fill="#ff0000"/><rect x="843" y="365" width="5" height="1" fill="#ff0000"/><rect x="853" y="338" width="1" height="30" fill="#ff0000"/><rect x="851" y="357" width="5" height="8" fill="#ff0000"/><rect x="861" y="329" width="1" height="47" fill="#00fa78"/><rect x="859" y="356" width="5" height="11" fill="#00fa78"/><rect x="869" y="353" width="1" height="46" fill="#00fa78"/><rect x="867" y="366" width="5" height="25" fill="#00fa78"/><rect x="877" y="382" width="1" height="23" fill="#00fa78"/><rect x="875" y="390" width="5" height="6" fill="#00fa78"/><rect x="885" y="373" width="1" height="23" fill="#ff0000"/><rect x="883" y="378" width="5" height="17" fill="#ff0000"/><rect x="893" y="374" width="1" height="18" fill="#00fa78"/><rect x="891" y="378" width="5" height="12" fill="#00fa78"/><rect x="901" y="341" width="1" height="51" fill="#ff0000"/><rect x="899" y="356" width="5" height="34" fill="#ff0000"/><rect x="909" y="321" width="1" height="38" fill="#ff0000"/><rect x="907" y="332" width="5" height="25" fill="#ff0000"/><rect x="917" y="318" width="1" height="49" fill="#00fa78"/><rect x="915" y="333" width="5" height="16" fill="#00fa78"/><rect x="925" y="336" width="1" height="14" fill="#ff0000"/><rect x="923" y="340" width="5" height="10" fill="#ff0000"/><rect x="933" y="307" width="1" height="40" fill="#ff0000"/><rect x="931" y="321" width="5" height="21" fill="#ff0000"/><rect x="941" y="308" width="1" height="17" fill="#ff0000"/><rect x="939" y="318" width="5" height="5" fill="#ff0000"/><rect x="949" y="311" width="1" height="41" fill="#00fa78"/><rect x="947" y="319" width="5" height="19" fill="#00fa78"/><rect x="957" y="335" width="1" height="39" fill="#00fa78"/><rect x="955" y="337" width="5" height="23" fill="#00fa78"/><rect x="965" y="339" width="1" height="22" fill="#ff0000"/><rect x="963" y="349" width="5" height="11" fill="#ff0000"/><rect x="973" y="332" width="1" height="18" fill="#ff0000"/><rect x="971" y="333" width="5" height="17" fill="#ff0000"/><rect x="981" y="333" width="1" height="11" fill="#00fa78"/><rect x="979" y="333" width="5" height="9" fill="#00fa78"/><rect x="989" y="339" width="1" height="14" fill="#00fa78"/><rect x="987" y="341" width="5" height="8" fill="#00fa78"/><rect x="997" y="337" width="1" height="28" fill="#00fa78"/><rect x="995" y="348" width="5" height="13" fill="#00fa78"/><rect x="1005" y="354" width="1" height="25" fill="#ff0000"/><rect x="1003" y="358" width="5" height="2" fill="#ff0000"/><rect x="1013" y="346" width="1" height="28" fill="#00fa78"/><rect x="1011" y="358" width="5" height="13" fill="#00fa78"/><rect x="1021" y="363" width="1" height="8" fill="#ff0000"/><rect x="1019" y="367" width="5" height="4" fill="#ff0000"/><rect x="1029" y="377" width="1" height="20" fill="#00fa78"/><rect x="1027" y="384" width="5" height="7" fill="#00fa78"/><rect x="1037" y="366" width="1" height="25" fill="#ff0000"/><rect x="1035" y="375" width="5" height="16" fill="#ff0000"/><rect x="1045" y="366" width="1" height="13" fill="#00fa78"/><rect x="1043" y="375" width="5" height="4" fill="#00fa78"/><rect x="1053" y="373" width="1" height="13" fill="#ff0000"/><rect x="1051" y="375" width="5" height="4" fill="#ff0000"/><rect x="1061" y="369" width="1" height="22" fill="#00fa78"/><rect x="1059" y="375" width="5" height="3" fill="#00fa78"/><rect x="1069" y="374" width="1" height="28" fill="#00fa78"/><rect x="1067" y="377" width="5" height="18" fill="#00fa78"/><rect x="1077" y="388" width="1" height="11" fill="#ff0000"/><rect x="1075" y="388" width="5" height="8" fill="#ff0000"/><rect x="1085" y="372" width="1" height="18" fill="#ff0000"/><rect x="1083" y="377" width="5" height="12" fill="#ff0000"/><rect x="1093" y="372" width="1" height="13" fill="#00fa78"/><rect x="1091" y="377" width="5" height="6" fill="#00fa78"/><rect x="1101" y="361" width="1" height="23" fill="#ff0000"/><rect x="1099" y="365" width="5" height="18" fill="#ff0000"/><rect x="1109" y="358" width="1" height="16" fill="#00fa78"/><rect x="1107" y="366" width="5" height="2" fill="#00fa78"/><rect x="1117" y="364" width="1" height="25" fill="#00fa78"/><rect x="1115" y="366" width="5" height="23" fill="#00fa78"/><rect x="1125" y="376" width="1" height="16" fill="#ff0000"/><rect x="1123" y="377" width="5" height="11" fill="#ff0000"/><rect x="1133" y="356" width="1" height="24" fill="#ff0000"/><rect x="1131" y="361" width="5" height="17" fill="#ff0000"/><rect x="1141" y="356" width="1" height="11" fill="#ff0000"/><rect x="1139" y="356" width="5" height="6" fill="#ff0000"/><rect x="1149" y="352" width="1" height="10" fill="#000"/><rect x="1147" y="356" width="5" height="1" fill="#000"/><rect x="1157" y="323" width="1" height="37" fill="#ff0000"/><rect x="1155" y="338" width="5" height="19" fill="#ff0000"/><rect x="1165" y="333" width="1" height="15" fill="#ff0000"/><rect x="1163" y="336" width="5" height="3" fill="#ff0000"/><rect x="1173" y="322" width="1" height="15" fill="#ff0000"/><rect x="1171" y="322" width="5" height="15" fill="#ff0000"/><rect x="1181" y="315" width="1" height="21" fill="#00fa78"/><rect x="1179" y="322" width="5" height="11" fill="#00fa78"/><rect x="1189" y="331" width="1" height="3" fill="#ff0000"/><rect x="1187" y="331" width="5" height="2" fill="#ff0000"/></g>
<path class="s" fill="#ffa500" d="M5,47h36v1h-36zM41,46h181v1h-181zM222,45h21v1h-21zM243,44h17v1h-17zM260,43h17v1h-17zM277,42h15v1h-15zM292,41h15v1h-15zM307,40h14v1h-14zM321,39h14v1h-14zM335,38h85v1h-85zM420,39h14v1h-14zM434,40h24v1h-24zM458,41h14v1h-14zM472,42h10v1h-10zM482,43h11v1h-11zM493,44h16v1h-16zM509,45h16v1h-16zM525,46h12v1h-12zM537,47h9v1h-9zM546,48h10v1h-10zM556,49h9v1h-9zM565,50h9v1h-9zM574,51h9v1h-9zM583,52h10v1h-10zM593,53h8v1h-8zM601,54h5v1h-5zM606,55h5v1h-5zM611,56h4v1h-4zM615,57h5v1h-5zM620,58h5v1h-5zM625,59h6v1h-6zM631,60h9v1h-9zM640,61h8v1h-8zM648,62h8v1h-8zM656,63h8v1h-8zM664,64h9v1h-9zM673,65h8v1h-8zM681,66h8v1h-8zM689,67h7v1h-7zM696,68h7v1h-7zM703,69h7v1h-7zM710,70h6v1h-6zM716,71h7v1h-7zM723,72h7v1h-7zM730,73h7v1h-7zM737,74h7v1h-7zM744,75h6v1h-6zM750,76h6v1h-6zM756,77h5v1h-5zM761,78h5v1h-5zM766,79h5v1h-5zM771,80h5v1h-5zM776,81h5v1h-5zM781,82h5v1h-5zM786,83h5v1h-5zM791,84h5v1h-5zM796,85h5v1h-5zM801,86h5v1h-5zM806,87h5v1h-5zM811,88h6v1h-6zM817,89h5v1h-5zM822,90h5v1h-5zM827,91h5v1h-5zM832,92h5v1h-5zM837,93h5v1h-5zM842,94h5v1h-5zM847,95h5v1h-5zM852,96h5v1h-5zM857,97h5v1h-5zM862,98h5v1h-5zM867,99h5v1h-5zM872,100h5v1h-5zM877,101h4v1h-4zM881,102h5v1h-5zM886,103h4v1h-4zM890,104h4v1h-4zM894,105h4v1h-4zM898,106h4v1h-4zM902,107h4v1h-4zM906,108h4v1h-4zM910,109h4v1h-4zM914,110h4v1h-4zM918,111h4v1h-4zM922,112h4v1h-4zM926,113h5v1h-5zM931,114h4v1h-4zM935,115h4v1h-4zM939,116h5v1h-5zM944,117h5v1h-5zM949,118h5v1h-5zM954,119h5v1h-5zM959,120h5v1h-5zM964,121h5v1h-5zM969,122h5v1h-5zM974,123h5v1h-5zM979,124h5v1h-5zM984,125h5v1h-5zM989,126h5v1h-5zM994,127h5v1h-5zM999,128h5v1h-5zM1004,129h5v1h-5zM1009,130h4v1h-4zM1013,131h5v1h-5zM1018,132h5v1h-5zM1023,133h4v1h-4zM1027,134h5v1h-5zM1032,135h5v1h-5zM1037,136h5v1h-5zM1042,137h4v1h-4zM1046,138h5v1h-5zM1051,139h5v1h-5zM1056,140h4v1h-4zM1060,141h5v1h-5zM1065,142h4v1h-4zM1069,143h4v1h-4zM1073,144h4v1h-4zM1077,145h4v1h-4zM1081,146h4v1h-4zM1085,147h4v1h-4zM1089,148h4v1h-4zM1093,149h5v1h-5zM1098,150h4v1h-4zM1102,151h4v1h-4zM1106,152h4v1h-4zM1110,153h4v1h-4zM1114,154h4v1h-4zM1118,155h4v1h-4zM1122,156h4v1h-4zM1126,157h4v1h-4zM1130,158h5v1h-5zM1135,159h5v1h-5zM1140,160h4v1h-4zM1144,161h5v1h-5zM1149,162h5v1h-5zM1154,163h4v1h-4zM1158,164h5v1h-5zM1163,165h5v1h-5zM1168,166h5v1h-5zM1173,167h4v1h-4zM1177,168h5v1h-5zM1182,169h5v1h-5zM1187,170h3v1h-3z"/>
<path class="s" fill="#ff00ff" d="M203,32h4v1h-4zM207,33h3v1h-3zM210,34h2v1h-2zM212,35h3v1h-3zM215,36h2v1h-2zM217,37h2v1h-2zM219,38h3v1h-3zM222,39h2v1h-2zM224,40h3v1h-3zM227,41h2v1h-2zM229,42h3v1h-3zM232,43h2v1h-2zM234,44h3v1h-3zM237,45h2v1h-2zM239,46h3v1h-3zM242,47h2v1h-2zM244,48h2v1h-2zM246,49h3v1h-3zM249,50h2v1h-2zM251,51h2v1h-2zM253,52h2v1h-2zM255,53h3v1h-3zM258,54h2v1h-2zM260,55h4v1h-4zM264,56h3v1h-3zM267,57h4v1h-4zM271,58h3v1h-3zM274,59h4v1h-4zM278,60h3v1h-3zM281,61h4v1h-4zM285,62h4v1h-4zM289,63h3v1h-3zM292,64h4v1h-4zM296,65h3v1h-3zM299,66h4v1h-4zM303,67h3v1h-3zM306,68h4v1h-4zM310,69h4v1h-4zM314,70h2v1h-2zM316,71h2v1h-2zM318,72h3v1h-3zM321,73h2v1h-2zM323,74h2v1h-2zM325,75h3v1h-3zM328,76h2v1h-2zM330,77h2v1h-2zM332,78h2v1h-2zM334,79h3v1h-3zM337,80h2v1h-2zM339,81h3v1h-3zM342,82h4v1h-4zM346,83h3v1h-3zM349,84h4v1h-4zM353,85h3v1h-3zM356,86h4v1h-4zM360,87h8v1h-8zM368,88h9v1h-9zM377,89h9v1h-9zM386,90h10v1h-10zM396,91h7v1h-7zM403,92h4v1h-4zM407,93h5v1h-5zM412,94h5v1h-5zM417,95h4v1h-4zM421,96h5v1h-5zM426,97h4v1h-4zM430,98h4v1h-4zM434,99h4v1h-4zM438,100h5v1h-5zM443,101h4v1h-4zM447,102h4v1h-4zM451,103h5v1h-5zM456,104h4v1h-4zM460,105h4v1h-4zM464,106h4v1h-4zM468,107h5v1h-5zM473,108h4v1h-4zM477,109h4v1h-4zM481,110h4v1h-4zM485,111h4v1h-4zM489,112h5v1h-5zM494,113h4v1h-4zM498,114h4v1h-4zM502,115h4v1h-4zM506,116h4v1h-4zM510,117h2v1h-2zM512,118h3v1h-3zM515,119h2v1h-2zM517,120h3v1h-3zM520,121h2v1h-2zM522,122h3v1h-3zM525,123h2v1h-2zM527,124h3v1h-3zM530,125h2v1h-2zM532,126h3v1h-3zM535,127h2v1h-2zM537,128h3v1h-3zM540,129h2v1h-2zM542,130h2v1h-2zM544,131h3v1h-3zM547,132h2v1h-2zM549,133h2v1h-2zM551,134h2v1h-2zM553,135h2v1h-2zM555,136h2v1h-2zM557,137h3v1h-3zM560,138h2v1h-2zM562,139h2v1h-2zM564,140h2v1h-2zM566,141h2v1h-2zM568,142h3v1h-3zM571,143h2v1h-2zM573,144h3v1h-3zM576,145h3v1h-3zM579,146h2v1h-2zM581,147h3v1h-3zM584,148h3v1h-3zM587,149h2v1h-2zM589,150h3v1h-3zM592,151h3v1h-3zM595,152h2v1h-2zM597,153h3v1h-3zM600,154h3v1h-3zM603,155h3v1h-3zM606,156h3v1h-3zM609,157h2v1h-2zM611,158h3v1h-3zM614,159h3v1h-3zM617,160h3v1h-3zM620,161h3v1h-3zM623,162h3v1h-3zM626,163h3v1h-3zM629,164h3v1h-3zM632,165h4v1h-4zM636,166h3v1h-3zM639,167h3v1h-3zM642,168h3v1h-3zM645,169h3v1h-3zM648,170h3v1h-3zM651,171h3v1h-3zM654,172h3v1h-3zM657,173h2v1h-2zM659,174h3v1h-3zM662,175h3v1h-3zM665,176h3v1h-3zM668,177h3v1h-3zM671,178h3v1h-3zM674,179h3v1h-3zM677,180h2v1h-2zM679,181h2v1h-2zM681,182h2v1h-2zM683,183h2v1h-2zM685,184h2v1h-2zM687,185h2v1h-2zM689,186h2v1h-2zM691,187h2v1h-2zM693,188h2v1h-2zM695,189h2v1h-2zM697,190h2v1h-2zM699,191h2v1h-2zM701,192h2v1h-2zM703,193h2v1h-2zM705,194h2v1h-2zM707,195h2v1h-2zM709,196h2v1h-2zM711,197h2v1h-2zM713,198h2v1h-2zM715,199h2v1h-2zM717,200h2v1h-2zM719,201h2v1h-2zM721,202h2v1h-2zM723,203h2v1h-2zM725,204h2v1h-2zM727,205h1v1h-1zM728,206h2v1h-2zM730,207h2v1h-2zM732,208h2v1h-2zM734,209h2v1h-2zM736,210h2v1h-2zM738,211h2v1h-2zM740,212h2v1h-2zM742,213h2v1h-2zM744,214h2v1h-2zM746,215h2v1h-2zM748,216h2v1h-2zM750,217h2v1h-2zM752,218h1v1h-1zM753,219h2v1h-2zM755,220h2v1h-2zM757,221h2v1h-2zM759,222h2v1h-2zM761,223h2v1h-2zM763,224h2v1h-2zM765,225h2v1h-2zM767,226h2v1h-2zM769,227h2v1h-2zM771,228h2v1h-2zM773,229h2v1h-2zM775,230h2v1h-2zM777,231h2v1h-2zM779,232h2v1h-2zM781,233h2v1h-2zM783,234h2v1h-2zM785,235h2v1h-2zM787,236h1v1h-1zM788,237h2v1h-2zM790,238h2v1h-2zM792,239h2v1h-2zM794,240h2v1h-2zM796,241h2v1h-2zM798,242h2v1h-2zM800,243h2v1h-2zM802,244h2v1h-2zM804,245h2v1h-2zM806,246h1v1h-1zM807,247h2v1h-2zM809,248h1v1h-1zM810,249h2v1h-2zM812,250h2v1h-2zM814,251h1v1h-1zM815,252h2v1h-2zM817,253h1v1h-1zM818,254h2v1h-2zM820,255h2v1h-2zM822,256h1v1h-1zM823,257h2v1h-2zM825,258h1v1h-1zM826,259h2v1h-2zM828,260h2v1h-2zM830,261h1v1h-1zM831,262h2v1h-2zM833,263h1v1h-1zM834,264h2v1h-2zM836,265h2v1h-2zM838,266h2v1h-2zM840,267h2v1h-2zM842,268h2v1h-2zM844,269h2v1h-2zM846,270h2v1h-2zM848,271h2v1h-2zM850,272h2v1h-2zM852,273h2v1h-2zM854,274h3v1h-3zM857,275h2v1h-2zM859,276h2v1h-2zM861,277h2v1h-2zM863,278h2v1h-2zM865,279h2v1h-2zM867,280h2v1h-2zM869,281h2v1h-2zM871,282h2v1h-2zM873,283h2v1h-2zM875,284h2v1h-2zM877,285h2v1h-2zM879,286h2v1h-2zM881,287h2v1h-2zM883,288h3v1h-3zM886,289h2v1h-2zM888,290h2v1h-2zM890,291h2v1h-2zM892,292h2v1h-2zM894,293h2v1h-2zM896,294h2v1h-2zM898,295h3v1h-3zM901,296h3v1h-3zM904,297h3v1h-3zM907,298h3v1h-3zM910,299h3v1h-3zM913,300h3v1h-3zM916,301h3v1h-3zM919,302h3v1h-3zM922,303h3v1h-3zM925,304h3v1h-3zM928,305h3v1h-3zM931,306h3v1h-3zM934,307h5v1h-5zM939,308h4v1h-4zM943,309h5v1h-5zM948,310h4v1h-4zM952,311h3v1h-3zM955,312h3v1h-3zM958,313h2v1h-2zM960,314h7v1h-7zM967,315h7v1h-7zM974,316h7v1h-7zM981,317h7v1h-7zM988,318h7v1h-7zM995,319h7v1h-7zM1002,320h5v1h-5zM1007,321h4v1h-4zM1011,322h5v1h-5zM1016,323h4v1h-4zM1020,324h4v1h-4zM1024,325h5v1h-5zM1029,326h4v1h-4zM1033,327h4v1h-4zM1037,328h5v1h-5zM1042,329h4v1h-4zM1046,330h4v1h-4zM1050,331h4v1h-4zM1054,332h4v1h-4zM1058,333h3v1h-3zM1061,334h3v1h-3zM1064,335h3v1h-3zM1067,336h3v1h-3zM1070,337h3v1h-3zM1073,338h3v1h-3zM1076,339h3v1h-3zM1079,340h4v1h-4zM1083,341h4v1h-4zM1087,342h4v1h-4zM1091,343h4v1h-4zM1095,344h4v1h-4zM1099,345h5v1h-5zM1104,346h5v1h-5zM1109,347h5v1h-5zM1114,348h5v1h-5zM1119,349h5v1h-5zM1124,350h6v1h-6zM1130,351h6v1h-6zM1136,352h7v1h-7zM1143,353h9v1h-9zM1152,354h9v1h-9zM1161,355h9v1h-9zM1170,356h11v1h-11zM1181,357h9v1h-9z"/>
<path class="s" fill="#ff0000" d="M45,32h1v1h-1zM46,33h1v1h-1zM47,34h1v1h-1zM48,35h1v1h-1zM49,36h1v1h-1zM50,37h1v1h-1zM51,38h1v1h-1zM52,39h1v1h-1zM53,40h1v1h-1zM54,41h1v1h-1zM55,42h1v1h-1zM56,43h1v1h-1zM57,44h1v1h-1zM58,45h1v1h-1zM59,46h1v1h-1zM60,47h1v1h-1zM61,48h1v1h-1zM62,49h1v1h-1zM63,50h1v1h-1zM64,51h1v1h-1zM65,52h1v1h-1zM66,53h1v1h-1zM67,54h1v1h-1zM68,55h1v1h-1zM69,56h1v1h-1zM70,57h1v1h-1zM71,58h1v1h-1zM72,59h1v1h-1zM73,60h1v1h-1zM74,61h1v1h-1zM75,62h1v1h-1zM76,63h1v1h-1zM77,64h1v1h-1zM78,65h2v1h-2zM80,66h2v1h-2zM82,67h1v1h-1zM83,68h2v1h-2zM85,69h2v1h-2zM87,70h2v1h-2zM89,71h3v1h-3zM92,72h3v1h-3zM95,73h2v1h-2zM97,74h3v1h-3zM100,75h3v1h-3zM103,76h3v1h-3zM106,77h3v1h-3zM109,78h3v1h-3zM112,79h3v1h-3zM115,80h3v1h-3zM118,81h5v1h-5zM123,82h5v1h-5zM128,83h4v1h-4zM132,84h5v1h-5zM137,85h4v1h-4zM141,86h4v1h-4zM145,87h4v1h-4zM149,88h4v1h-4zM153,89h4v1h-4zM157,90h3v1h-3zM160,91h2v1h-2zM162,92h3v1h-3zM165,93h2v1h-2zM167,94h2v1h-2zM169,95h3v1h-3zM172,96h2v1h-2zM174,97h5v1h-5zM179,98h5v1h-5zM184,99h6v1h-6zM190,100h7v1h-7zM197,101h7v1h-7zM204,102h7v1h-7zM211,103h6v1h-6zM217,104h9v1h-9zM226,105h15v1h-15zM241,104h5v1h-5zM246,103h5v1h-5zM251,102h7v1h-7zM258,101h7v1h-7zM265,100h7v1h-7zM272,99h9v1h-9zM281,98h9v1h-9zM290,97h6v1h-6zM296,96h7v1h-7zM303,95h6v1h-6zM309,94h7v1h-7zM316,93h7v1h-7zM323,92h6v1h-6zM329,91h5v1h-5zM334,90h5v1h-5zM339,89h58v1h-58zM397,90h4v1h-4zM401,91h5v1h-5zM406,92h5v1h-5zM411,93h3v1h-3zM414,94h3v1h-3zM417,95h3v1h-3zM420,96h2v1h-2zM422,97h3v1h-3zM425,98h1v1h-1zM426,99h2v1h-2zM428,100h2v1h-2zM430,101h2v1h-2zM432,102h2v1h-2zM434,103h2v1h-2zM436,104h1v1h-1zM437,105h2v1h-2zM439,106h2v1h-2zM441,107h2v1h-2zM443,108h1v1h-1zM444,109h2v1h-2zM446,110h1v1h-1zM447,111h2v1h-2zM449,112h1v1h-1zM450,113h1v1h-1zM451,114h2v1h-2zM453,115h1v1h-1zM454,116h1v1h-1zM455,117h1v1h-1zM456,118h1v1h-1zM457,119h1v1h-1zM458,120h1v1h-1zM459,121h2v1h-2zM461,122h2v1h-2zM463,123h1v1h-1zM464,124h2v1h-2zM466,125h2v1h-2zM468,126h1v1h-1zM469,127h2v1h-2zM471,128h2v1h-2zM473,129h1v1h-1zM474,130h2v1h-2zM476,131h1v1h-1zM477,132h2v1h-2zM479,133h1v1h-1zM480,134h1v1h-1zM481,135h2v1h-2zM483,136h1v1h-1zM484,137h1v1h-1zM485,138h2v1h-2zM487,139h1v1h-1zM488,140h1v1h-1zM489,141h2v1h-2zM491,142h1v1h-1zM492,143h1v1h-1zM493,144h2v1h-2zM495,145h1v1h-1zM496,146h1v1h-1zM497,147h2v1h-2zM499,148h1v1h-1zM500,149h1v1h-1zM501,150h2v1h-2zM503,151h1v1h-1zM504,152h1v1h-1zM505,153h2v1h-2zM507,154h1v1h-1zM508,155h1v1h-1zM509,156h2v1h-2zM511,157h1v1h-1zM512,158h1v1h-1zM513,159h2v1h-2zM515,160h1v1h-1zM516,161h1v1h-1zM517,162h2v1h-2zM519,163h1v1h-1zM520,164h1v1h-1zM521,165h2v1h-2zM523,166h1v1h-1zM524,167h1v1h-1zM525,168h1v1h-1zM526,169h1v1h-1zM527,170h1v1h-1zM528,171h1v1h-1zM529,172h1v1h-1zM530,173h1v1h-1zM531,174h1v2h-1zM532,176h1v1h-1zM533,177h1v1h-1zM534,178h1v1h-1zM535,179h1v1h-1zM536,180h1v1h-1zM537,181h1v1h-1zM538,182h1v1h-1zM539,183h1v1h-1zM540,184h1v2h-1zM541,186h1v1h-1zM542,187h1v1h-1zM543,188h1v1h-1zM544,189h1v1h-1zM545,190h1v1h-1zM546,191h1v1h-1zM547,192h1v2h-1zM548,194h1v1h-1zM549,195h1v1h-1zM550,196h1v1h-1zM551,197h1v1h-1zM552,198h1v1h-1zM553,199h1v1h-1zM554,200h1v1h-1zM555,201h1v1h-1zM556,202h1v1h-1zM557,203h1v1h-1zM558,204h1v1h-1zM559,205h1v1h-1zM560,206h1v1h-1zM561,207h1v1h-1zM562,208h1v1h-1zM563,209h1v1h-1zM564,210h1v1h-1zM565,211h1v1h-1zM566,212h1v1h-1zM567,213h1v1h-1zM568,214h1v1h-1zM569,215h1v1h-1zM570,216h1v1h-1zM571,217h1v1h-1zM572,218h1v1h-1zM573,219h1v2h-1zM574,221h1v1h-1zM575,222h1v1h-1zM576,223h1v1h-1zM577,224h2v1h-2zM579,225h1v1h-1zM580,226h1v1h-1zM581,227h1v1h-1zM582,228h1v1h-1zM583,229h2v1h-2zM585,230h1v1h-1zM586,231h1v1h-1zM587,232h1v1h-1zM588,233h2v1h-2zM590,234h1v1h-1zM591,235h2v1h-2zM593,236h1v1h-1zM594,237h2v1h-2zM596,238h2v1h-2zM598,239h1v1h-1zM599,240h3v1h-3zM602,241h2v1h-2zM604,242h2v1h-2zM606,243h2v1h-2zM608,244h2v1h-2zM610,245h3v1h-3zM613,246h4v1h-4zM617,247h3v1h-3zM620,248h3v1h-3zM623,249h3v1h-3zM626,250h3v1h-3zM629,251h2v1h-2zM631,252h3v1h-3zM634,253h2v1h-2zM636,254h4v1h-4zM640,255h4v1h-4zM644,256h4v1h-4zM648,257h3v1h-3zM651,258h2v1h-2zM653,259h2v1h-2zM655,260h2v1h-2zM657,261h2v1h-2zM659,262h2v1h-2zM661,263h2v1h-2zM663,264h2v1h-2zM665,265h1v1h-1zM666,266h3v1h-3zM669,267h5v1h-5zM674,268h5v1h-5zM679,269h3v1h-3zM682,270h2v1h-2zM684,271h2v1h-2zM686,272h3v1h-3zM689,273h2v1h-2zM691,274h12v1h-12zM703,275h5v1h-5zM708,276h22v1h-22zM730,275h19v1h-19zM749,276h3v1h-3zM752,277h4v1h-4zM756,278h3v1h-3zM759,279h3v1h-3zM762,280h3v1h-3zM765,281h3v1h-3zM768,282h3v1h-3zM771,283h2v1h-2zM773,284h2v1h-2zM775,285h2v1h-2zM777,286h2v1h-2zM779,287h2v1h-2zM781,288h2v1h-2zM783,289h2v1h-2zM785,290h2v1h-2zM787,291h3v1h-3zM790,292h2v1h-2zM792,293h3v1h-3zM795,294h2v1h-2zM797,295h3v1h-3zM800,296h2v1h-2zM802,297h1v1h-1zM803,298h2v1h-2zM805,299h2v1h-2zM807,300h2v1h-2zM809,301h2v1h-2zM811,302h1v1h-1zM812,303h2v1h-2zM814,304h1v1h-1zM815,305h1v1h-1zM816,306h2v1h-2zM818,307h1v1h-1zM819,308h1v1h-1zM820,309h2v1h-2zM822,310h1v1h-1zM823,311h2v1h-2zM825,312h1v1h-1zM826,313h2v1h-2zM828,314h1v1h-1zM829,315h2v1h-2zM831,316h1v1h-1zM832,317h2v1h-2zM834,318h1v1h-1zM835,319h2v1h-2zM837,320h3v1h-3zM840,321h2v1h-2zM842,322h3v1h-3zM845,323h2v1h-2zM847,324h3v1h-3zM850,325h2v1h-2zM852,326h2v1h-2zM854,327h3v1h-3zM857,328h2v1h-2zM859,329h2v1h-2zM861,330h2v1h-2zM863,331h2v1h-2zM865,332h2v1h-2zM867,333h1v1h-1zM868,334h2v1h-2zM870,335h2v1h-2zM872,336h2v1h-2zM874,337h2v1h-2zM876,338h1v1h-1zM877,339h2v1h-2zM879,340h2v1h-2zM881,341h1v1h-1zM882,342h2v1h-2zM884,343h1v1h-1zM885,344h2v1h-2zM887,345h2v1h-2zM889,346h1v1h-1zM890,347h3v1h-3zM893,348h2v1h-2zM895,349h3v1h-3zM898,350h2v1h-2zM900,351h3v1h-3zM903,352h3v1h-3zM906,353h3v1h-3zM909,354h3v1h-3zM912,355h3v1h-3zM915,356h25v1h-25zM940,355h17v1h-17zM957,356h5v1h-5zM962,357h5v1h-5zM967,358h8v1h-8zM975,357h8v1h-8zM983,356h8v1h-8zM991,355h8v1h-8zM999,354h17v1h-17zM1016,355h9v1h-9zM1025,356h10v1h-10zM1035,355h15v1h-15zM1050,354h14v1h-14zM1064,355h4v1h-4zM1068,356h4v1h-4zM1072,357h4v1h-4zM1076,358h5v1h-5zM1081,359h4v1h-4zM1085,360h5v1h-5zM1090,361h3v1h-3zM1093,362h4v1h-4zM1097,363h4v1h-4zM1101,364h3v1h-3zM1104,365h4v1h-4zM1108,366h3v1h-3zM1111,367h3v1h-3zM1114,368h3v1h-3zM1117,369h4v1h-4zM1121,370h12v1h-12zM1133,371h8v1h-8zM1141,372h14v1h-14zM1155,371h5v1h-5zM1160,370h5v1h-5zM1165,369h5v1h-5zM1170,368h5v1h-5zM1175,367h5v1h-5zM1180,366h5v1h-5zM1185,365h5v1h-5z"/>
<g class="s"><rect class="s" x="5" y="143" width="1205" height="2" fill="#ff0000"/><rect class="s" x="5" y="210" width="1205" height="2" fill="#ff0000"/><rect class="s" x="5" y="312" width="1205" height="2" fill="#00fa78"/></g>
<g class="s"><rect class="s" x="1211" y="48" width="2" height="1" fill="#000"/><rect class="s" x="1211" y="81" width="2" height="1" fill="#000"/><rect class="s" x="1211" y="114" width="2" height="1" fill="#000"/><rect class="s" x="1211" y="147" width="2" height="1" fill="#000"/><rect class="s" x="1211" y="180" width="2" height="1" fill="#000"/><rect class="s" x="1211" y="213" width="2" height="1" fill="#000"/><rect class="s" x="1211" y="246" width="2" height="1" fill="#000"/><rect class="s" x="1211" y="279" width="2" height="1" fill="#000"/><rect class="s" x="1211" y="312" width="2" height="1" fill="#000"/><rect class="s" x="1211" y="345" width="2" height="1" fill="#000"/><rect class="s" x="1211" y="378" width="2" height="1" fill="#000"/><rect class="s" x="1211" y="411" width="2" height="1" fill="#000"/><rect class="s" x="1211" y="440" width="2" height="1" fill="#000"/><rect class="s" x="1211" y="418" width="1" height="1" fill="#000"/><rect class="s" x="1211" y="549" width="1" height="1" fill="#000"/><rect class="s" x="1211" y="554" width="1" height="1" fill="#000"/><rect class="s" x="1211" y="675" width="1" height="1" fill="#000"/><rect class="s" x="1210" y="415" width="1" height="1" fill="#fff"/><rect class="s" x="1210" y="551" width="1" height="1" fill="#fff"/></g><text transform="translate(1215.8 52) scale(0.8907 1)" style="font-size:10.1px" >59.830</text><text transform="translate(1215.8 85) scale(0.8907 1)" style="font-size:10.1px" >58.855</text><text transform="translate(1215.8 118) scale(0.8907 1)" style="font-size:10.1px" >57.880</text><text transform="translate(1215.8 151) scale(0.8907 1)" style="font-size:10.1px" >56.905</text><text transform="translate(1215.8 184) scale(0.8907 1)" style="font-size:10.1px" >55.930</text><text transform="translate(1215.8 217) scale(0.8907 1)" style="font-size:10.1px" >54.955</text><text transform="translate(1215.8 250) scale(0.8907 1)" style="font-size:10.1px" >53.980</text><text transform="translate(1215.8 283) scale(0.8907 1)" style="font-size:10.1px" >53.005</text><text transform="translate(1215.8 316) scale(0.8907 1)" style="font-size:10.1px" >52.030</text><text transform="translate(1215.8 349) scale(0.8907 1)" style="font-size:10.1px" >51.055</text><text transform="translate(1215.8 382) scale(0.8907 1)" style="font-size:10.1px" >50.080</text><text transform="translate(1215.8 415) scale(0.8907 1)" style="font-size:10.1px" >49.105</text>
<rect class="s" x="1213" y="138" width="34" height="11" fill="#ff0000"/><text transform="translate(1215.8 147) scale(0.8907 1)" style="font-size:10.1px" class="w">57.000</text><rect class="s" x="1213" y="206" width="34" height="11" fill="#ff0000"/><text transform="translate(1215.8 215) scale(0.8907 1)" style="font-size:10.1px" class="w">55.000</text><rect class="s" x="1213" y="307" width="34" height="11" fill="#00fa78"/><text transform="translate(1215.8 316) scale(0.8907 1)" style="font-size:10.1px" class="w">52.000</text><rect class="s" x="1213" y="326" width="34" height="11" fill="#000"/><text transform="translate(1215.8 335) scale(0.8907 1)" style="font-size:10.1px" class="w">51.480</text>
<text transform="translate(1214.2 427) scale(0.8907 1)" style="font-size:10.1px" >0.2844</text><text transform="translate(1214.2 444) scale(0.8907 1)" style="font-size:10.1px" >0.00</text><text transform="translate(1214.2 547) scale(0.8907 1)" style="font-size:10.1px" >-1.3751</text><text transform="translate(1214.6 563) scale(0.8907 1)" style="font-size:10.1px" >100</text><text transform="translate(1212.8 594) scale(0.8907 1)" style="font-size:10.1px" >70</text><text transform="translate(1212.8 643) scale(0.8907 1)" style="font-size:10.1px" >30</text><text transform="translate(1214.3 673) scale(0.8907 1)" style="font-size:10.1px" >0</text>
<g class="s"><rect class="s" x="5" y="677" width="1" height="3" fill="#000"/><rect class="s" x="69" y="677" width="1" height="3" fill="#000"/><rect class="s" x="133" y="677" width="1" height="3" fill="#000"/><rect class="s" x="197" y="677" width="1" height="3" fill="#000"/><rect class="s" x="261" y="677" width="1" height="3" fill="#000"/><rect class="s" x="325" y="677" width="1" height="3" fill="#000"/><rect class="s" x="389" y="677" width="1" height="3" fill="#000"/><rect class="s" x="453" y="677" width="1" height="3" fill="#000"/><rect class="s" x="517" y="677" width="1" height="3" fill="#000"/><rect class="s" x="581" y="677" width="1" height="3" fill="#000"/><rect class="s" x="645" y="677" width="1" height="3" fill="#000"/><rect class="s" x="709" y="677" width="1" height="3" fill="#000"/><rect class="s" x="773" y="677" width="1" height="3" fill="#000"/><rect class="s" x="837" y="677" width="1" height="3" fill="#000"/><rect class="s" x="901" y="677" width="1" height="3" fill="#000"/><rect class="s" x="965" y="677" width="1" height="3" fill="#000"/><rect class="s" x="1029" y="677" width="1" height="3" fill="#000"/><rect class="s" x="1093" y="677" width="1" height="3" fill="#000"/><rect class="s" x="1157" y="677" width="1" height="3" fill="#000"/></g><text transform="translate(4.0 689) scale(0.8975 1)" style="font-size:10.1px" >10 Jan 2020</text><text transform="translate(68.0 689) scale(0.8975 1)" style="font-size:10.1px" >13 Jan 12:00</text><text transform="translate(132.0 689) scale(0.8975 1)" style="font-size:10.1px" >14 Jan 20:00</text><text transform="translate(196.0 689) scale(0.8975 1)" style="font-size:10.1px" >16 Jan 04:00</text><text transform="translate(260.0 689) scale(0.8975 1)" style="font-size:10.1px" >17 Jan 12:00</text><text transform="translate(324.0 689) scale(0.8975 1)" style="font-size:10.1px" >20 Jan 16:00</text><text transform="translate(388.0 689) scale(0.8975 1)" style="font-size:10.1px" >22 Jan 00:00</text><text transform="translate(452.0 689) scale(0.8975 1)" style="font-size:10.1px" >23 Jan 08:00</text><text transform="translate(516.0 689) scale(0.8975 1)" style="font-size:10.1px" >24 Jan 16:00</text><text transform="translate(580.0 689) scale(0.8975 1)" style="font-size:10.1px" >27 Jan 20:00</text><text transform="translate(644.0 689) scale(0.8975 1)" style="font-size:10.1px" >29 Jan 04:00</text><text transform="translate(708.0 689) scale(0.8975 1)" style="font-size:10.1px" >30 Jan 12:00</text><text transform="translate(772.0 689) scale(0.8975 1)" style="font-size:10.1px" >31 Jan 20:00</text><text transform="translate(836.0 689) scale(0.8975 1)" style="font-size:10.1px" >4 Feb 00:00</text><text transform="translate(900.0 689) scale(0.8975 1)" style="font-size:10.1px" >5 Feb 08:00</text><text transform="translate(964.0 689) scale(0.8975 1)" style="font-size:10.1px" >6 Feb 16:00</text><text transform="translate(1028.0 689) scale(0.8975 1)" style="font-size:10.1px" >9 Feb 23:00</text><text transform="translate(1092.0 689) scale(0.8975 1)" style="font-size:10.1px" >11 Feb 04:00</text><text transform="translate(1156.0 689) scale(0.8975 1)" style="font-size:10.1px" >12 Feb 12:00</text>
<polygon points="8,38 15,38 11.5,42" fill="#000"/><text transform="translate(19.2 43) scale(0.9703 1)" style="font-size:10.1px" >USOil-,H4</text><text transform="translate(68.0 43) scale(0.9169 1)" style="font-size:10.1px" >51.450 51.480 51.400 51.480</text><text transform="translate(8.3 429) scale(0.9334 1)" style="font-size:10.1px" >MACD(12,26,9) 0.2090 -0.0149</text><text transform="translate(8.3 565) scale(0.9315 1)" style="font-size:10.1px" >RSI(14) 59.6124</text><text class="big" x="212.1" y="387.4"><tspan stroke="#ff0000" stroke-width="0.45">多空转折点</tspan><tspan dx="2.6" style="font-size:36.7px;font-weight:400;letter-spacing:1.7px" stroke="#fff" stroke-width="0.6">52</tspan></text>
</svg>
</body></html>
